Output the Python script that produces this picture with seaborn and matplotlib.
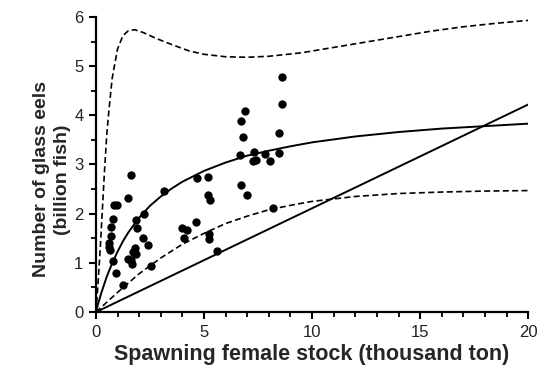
import numpy as np
import pandas as pd
import matplotlib
matplotlib.use("Agg")
import matplotlib.pyplot as plt
from matplotlib.ticker import MultipleLocator
import seaborn as sns

stock = [0.83, 0.96, 0.77, 0.69, 0.68, 0.62, 0.60, 0.66, 0.80, 0.93, 1.26,
         1.50, 1.61, 1.84, 1.91, 2.24, 2.17, 2.42, 1.81, 1.70, 1.86, 1.48, 1.62, 1.68, 2.54, 3.15,
         4.00, 4.20, 4.08, 4.61, 4.66, 5.17, 5.20, 5.30, 5.24, 5.24, 5.62,
         6.69, 7.00, 6.90, 6.71, 6.79, 6.67, 7.31, 7.25, 7.41, 7.82, 8.06, 8.49, 8.49, 8.20, 8.63, 8.63]
eels = [2.17, 2.17, 1.89, 1.73, 1.55, 1.40, 1.32, 1.27, 1.04, 0.80, 0.56,
        2.31, 2.78, 1.87, 1.71, 1.99, 1.50, 1.36, 1.30, 1.23, 1.18, 1.07, 1.05, 0.97, 0.94, 2.47,
        1.71, 1.66, 1.50, 1.83, 2.72, 2.74, 2.38, 2.28, 1.59, 1.48, 1.25,
        2.58, 2.39, 4.09, 3.89, 3.55, 3.19, 3.25, 3.07, 3.09, 3.21, 3.07, 3.23, 3.65, 2.11, 4.22, 4.77]

# fitted curve (solid)
fit_x = [0, 0.1, 0.25, 0.5, 0.75, 1, 1.25, 1.5, 2, 2.5, 3, 3.5, 4, 5, 6, 7, 8, 9, 10, 12, 14, 16, 18, 20]
fit_y = [0, 0.17, 0.39, 0.72, 0.99, 1.23, 1.44, 1.62, 1.92, 2.16, 2.35, 2.51, 2.65, 2.87, 3.04,
         3.18, 3.28, 3.37, 3.45, 3.57, 3.66, 3.73, 3.78, 3.83]

# upper confidence bound (dashed)
up_x = [0, 0.1, 0.2, 0.3, 0.4, 0.5, 0.6, 0.75, 1.0, 1.25, 1.5, 1.8, 2.2, 2.8, 3.5, 4.3, 5.0,
        6.0, 7.0, 8.0, 9.5, 11, 12.5, 14, 15.5, 17, 18.5, 20]
up_y = [0, 0.6, 1.3, 2.1, 2.9, 3.6, 4.1, 4.75, 5.35, 5.62, 5.72, 5.74, 5.68, 5.56, 5.44, 5.31, 5.24,
        5.19, 5.18, 5.20, 5.27, 5.38, 5.49, 5.60, 5.71, 5.80, 5.87, 5.93]

# lower confidence bound (dashed)
lo_x = [0, 1, 2, 3, 4, 5, 6, 7, 8, 9, 10, 12, 14, 16, 18, 20]
lo_y = [0, 0.40, 0.78, 1.10, 1.38, 1.60, 1.80, 1.95, 2.08, 2.17, 2.25, 2.35, 2.41, 2.44, 2.46, 2.47]

# replacement line
rep_x = [0, 20]
rep_y = [0, 4.22]

sns.set_style("ticks")
plt.rcParams['font.family'] = ['Liberation Sans', 'DejaVu Sans']

fig = plt.figure(figsize=(5.39, 3.76), dpi=100)
ax = fig.add_axes([0.178, 0.17, 0.802, 0.785])

pts = pd.DataFrame({"stock": stock, "eels": eels})
sns.scatterplot(data=pts, x="stock", y="eels", color="black", s=36,
                edgecolor="black", linewidth=0, ax=ax, zorder=3)

sns.lineplot(x=fit_x, y=fit_y, color="black", lw=1.4, ax=ax, sort=False)
sns.lineplot(x=rep_x, y=rep_y, color="black", lw=1.4, ax=ax, sort=False)
sns.lineplot(x=up_x, y=up_y, color="black", lw=1.2, ax=ax, sort=False,
             dashes=False, linestyle=(0, (3.6, 2.0)))
sns.lineplot(x=lo_x, y=lo_y, color="black", lw=1.2, ax=ax, sort=False,
             dashes=False, linestyle=(0, (3.6, 2.0)))

ax.set_xlim(0, 20)
ax.set_ylim(0, 6)
ax.xaxis.set_major_locator(MultipleLocator(5))
ax.xaxis.set_minor_locator(MultipleLocator(1))
ax.yaxis.set_major_locator(MultipleLocator(1))
ax.yaxis.set_minor_locator(MultipleLocator(0.5))
ax.tick_params(which="major", length=5, width=1.5, labelsize=12, color="black",
               labelcolor="#222222", pad=4)
ax.tick_params(which="minor", length=3.5, width=1.3, color="black")

for s in ["left", "bottom"]:
    ax.spines[s].set_linewidth(1.6)
    ax.spines[s].set_color("black")
sns.despine(ax=ax)

ax.set_xlabel("Spawning female stock (thousand ton)", fontsize=15.5, fontweight="bold", labelpad=3)
ax.set_ylabel("Number of glass eels\n(billion fish)", fontsize=14, fontweight="bold",
              linespacing=1.3)
ax.yaxis.set_label_coords(-0.058, 0.45)

fig.savefig("out.png", dpi=100)
